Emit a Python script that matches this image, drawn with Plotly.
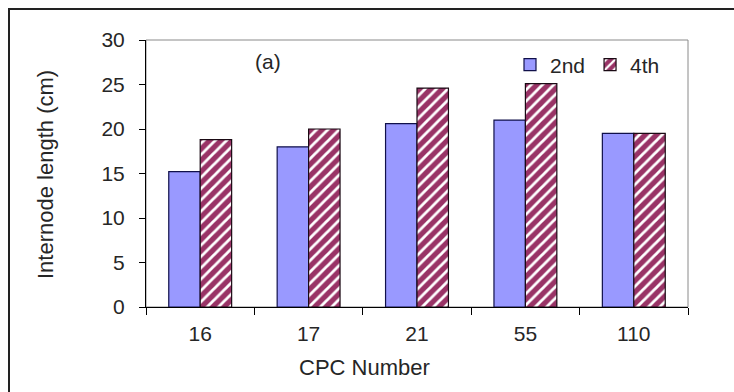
import plotly.graph_objects as go

# Internode length by CPC number, 2nd vs 4th internode
cpc_numbers = ["16", "17", "21", "55", "110"]
second_internode = [15.2, 18.0, 20.6, 21.0, 19.5]
fourth_internode = [18.8, 20.0, 24.6, 25.1, 19.5]
series_names = ["2nd", "4th"]

FONT = "Liberation Sans, Arial, sans-serif"
TEXT = "#262626"

W, H = 734, 392
L, R, T, B = 146, 46, 40, 85
PW, PH = W - L - R, H - T - B


def px_x(px):
    return (px - L) / PW


def px_y(py):
    return (H - B - py) / PH


fig = go.Figure()
fig.add_trace(go.Bar(
    x=cpc_numbers, y=second_internode, name=series_names[0],
    marker=dict(color="#9999FF", line=dict(color="#10104a", width=1.2)),
))
fig.add_trace(go.Bar(
    x=cpc_numbers, y=fourth_internode, name=series_names[1],
    marker=dict(
        color="#993366",
        line=dict(color="#1a0a14", width=1.2),
        pattern=dict(shape="/", fgcolor="white", bgcolor="#993366",
                     fillmode="replace", size=8, solidity=0.35),
    ),
))

fig.update_layout(
    width=W, height=H,
    margin=dict(l=L, r=R, t=T, b=B),
    paper_bgcolor="white", plot_bgcolor="white",
    barmode="group", bargap=0.42, bargroupgap=0,
    font=dict(family=FONT, size=21, color=TEXT),
    showlegend=True,
    legend=dict(
        orientation="h", x=px_x(510), y=px_y(65),
        xanchor="left", yanchor="middle",
        font=dict(family=FONT, size=21, color=TEXT),
        bgcolor="rgba(0,0,0,0)", itemclick=False,
    ),
    xaxis=dict(
        type="category", showgrid=False, zeroline=False,
        showline=True, linecolor="black", linewidth=1,
        ticks="outside", tickson="boundaries", ticklen=7,
        tickcolor="black", tickwidth=1,
        ticklabelstandoff=8,
        tickfont=dict(family=FONT, size=21, color=TEXT),
    ),
    yaxis=dict(
        range=[0, 30], dtick=5, showgrid=False, zeroline=False,
        showline=True, linecolor="black", linewidth=1,
        ticks="outside", ticklen=6, tickcolor="black", tickwidth=1,
        ticklabelstandoff=10,
        tickfont=dict(family=FONT, size=21, color=TEXT),
    ),
    shapes=[
        # plot area frame (gray top/right edges)
        dict(type="rect", xref="paper", yref="paper", x0=0, x1=1, y0=0, y1=1,
             line=dict(color="#8a8a8a", width=1), layer="below"),
        # chart area border
        dict(type="rect", xref="paper", yref="paper",
             x0=px_x(9), x1=px_x(760), y0=px_y(420), y1=px_y(9),
             line=dict(color="#222222", width=2), layer="above"),
    ],
    annotations=[
        dict(text="(a)", xref="paper", yref="paper", x=px_x(268), y=px_y(62),
             showarrow=False, xanchor="center", yanchor="middle",
             font=dict(family=FONT, size=21, color=TEXT)),
        dict(text="CPC Number", xref="paper", yref="paper", x=px_x(364), y=px_y(368),
             showarrow=False, xanchor="center", yanchor="middle",
             font=dict(family=FONT, size=22, color=TEXT)),
        dict(text="Internode length (cm)", xref="paper", yref="paper",
             x=px_x(45), y=px_y(175), textangle=-90,
             showarrow=False, xanchor="center", yanchor="middle",
             font=dict(family=FONT, size=22, color=TEXT)),
    ],
)

fig.write_html("out.html")
